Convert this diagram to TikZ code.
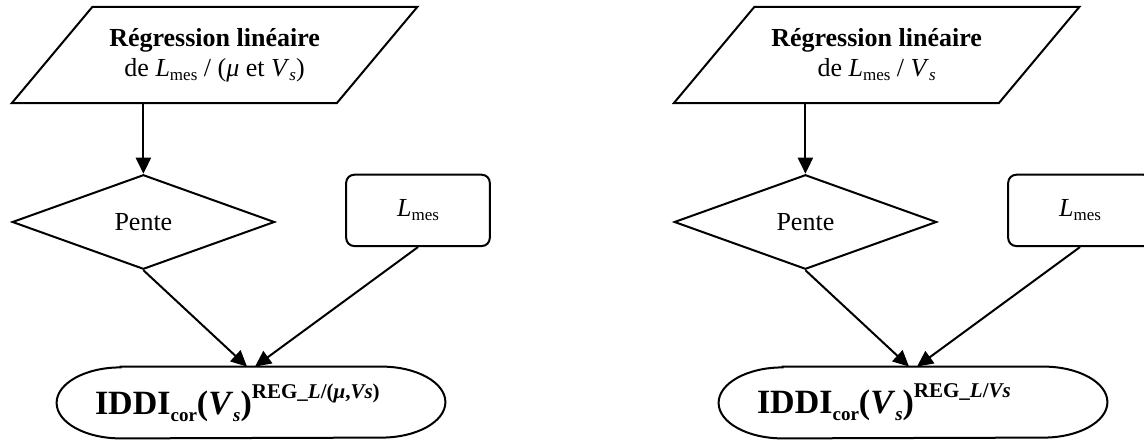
\documentclass[tikz,border=0pt]{standalone}
\usepackage{fontspec}
\setmainfont{Liberation Serif}
\usetikzlibrary{shapes.geometric, arrows.meta, positioning}
% small raised / lowered text
\newcommand{\lsub}[1]{\raisebox{-2pt}{\fontsize{8.5}{9}\selectfont #1}}
\newcommand{\losub}[1]{\raisebox{-3.5pt}{\fontsize{9.5}{10}\selectfont #1}}
\newcommand{\hisup}[1]{\raisebox{8pt}{\fontsize{10.5}{11}\selectfont #1}}
\tikzset{
    every node/.style={font=\fontsize{13}{15}\selectfont},
    % Regression (input) box style, outline drawn apart
    regbox/.style={
        rectangle,
        minimum width=162.1pt,
        minimum height=47.75pt,
        inner sep=0pt,
        align=center
    },
    % Decision box style
    decision/.style={
        diamond,
        draw,
        line width=1pt,
        minimum width=131.2pt,
        minimum height=47.25pt,
        inner sep=0pt
    },
    % Measure box style
    measure/.style={
        rectangle,
        rounded corners=4pt,
        draw,
        line width=1pt,
        minimum width=71.8pt,
        minimum height=35.65pt
    },
    % Result node, outline drawn apart
    result/.style={
        rectangle,
        minimum height=35.5pt,
        text width=156pt,
        inner xsep=19pt,
        inner ysep=0pt,
        align=left,
        font=\fontsize{17}{19}\selectfont\bfseries
    },
    % Outline style
    outline/.style={line width=1pt},
    % Arrow style
    arrow/.style={
        -{Triangle[length=8pt,width=7.5pt]},
        line width=1pt
    }
}

\begin{document}
\begin{tikzpicture}[x=1pt, y=1pt]
        \useasboundingbox (0,0) rectangle (572,219.5);

        % Regression on mu and Vs
        \node (reg1) [regbox] at (107.3,192) {\textbf{Régression linéaire}\\de \textit{L}\lsub{mes} / (\textit{μ} et \textit{V}\lsub{\textit{s}})};
        \draw [outline] ([xshift=-20.15pt]reg1.south west) -- ([xshift=-20.15pt]reg1.south east)
            -- ([xshift=20.15pt]reg1.north east) -- ([xshift=20.15pt]reg1.north west) -- cycle;
        \node (pente1) [decision] at (71.7,108.5) {Pente};
        \node (mes1) [measure] at (209,114.3) {\textit{L}\lsub{mes}};
        \node (iddi1) [result] at (125.5,18.25) {IDDI\losub{cor}(\textit{V}\losub{\textit{s}})\hisup{REG\_\textit{L}/(\textit{μ},\textit{Vs})}};
        \draw [outline] ([xshift=32pt]iddi1.north west) -- ([xshift=-32pt]iddi1.north east)
            arc[start angle=90, end angle=-90, x radius=32pt, y radius=17.75pt]
            -- ([xshift=32pt]iddi1.south west)
            arc[start angle=270, end angle=90, x radius=32pt, y radius=17.75pt] -- cycle;

        \draw [arrow] (pente1.north |- reg1.south) -- (pente1.north);
        \draw [arrow] (pente1.south) -- ([xshift=-2pt]iddi1.north);
        \draw [arrow] (mes1.south) -- ([xshift=2pt]iddi1.north);

        % Regression on Vs only
        \node (reg2) [regbox] at (438.3,192) {\textbf{Régression linéaire}\\de \textit{L}\lsub{mes} / \textit{V}\lsub{\textit{s}}};
        \draw [outline] ([xshift=-20.15pt]reg2.south west) -- ([xshift=-20.15pt]reg2.south east)
            -- ([xshift=20.15pt]reg2.north east) -- ([xshift=20.15pt]reg2.north west) -- cycle;
        \node (pente2) [decision] at (402.7,108.5) {Pente};
        \node (mes2) [measure] at (540,114.3) {\textit{L}\lsub{mes}};
        \node (iddi2) [result] at (456.5,18.25) {IDDI\losub{cor}(\textit{V}\losub{\textit{s}})\hisup{REG\_\textit{L}/\textit{Vs}}};
        \draw [outline] ([xshift=32pt]iddi2.north west) -- ([xshift=-32pt]iddi2.north east)
            arc[start angle=90, end angle=-90, x radius=32pt, y radius=17.75pt]
            -- ([xshift=32pt]iddi2.south west)
            arc[start angle=270, end angle=90, x radius=32pt, y radius=17.75pt] -- cycle;

        \draw [arrow] (pente2.north |- reg2.south) -- (pente2.north);
        \draw [arrow] (pente2.south) -- ([xshift=-2pt]iddi2.north);
        \draw [arrow] (mes2.south) -- ([xshift=2pt]iddi2.north);
    \end{tikzpicture}
\end{document}
